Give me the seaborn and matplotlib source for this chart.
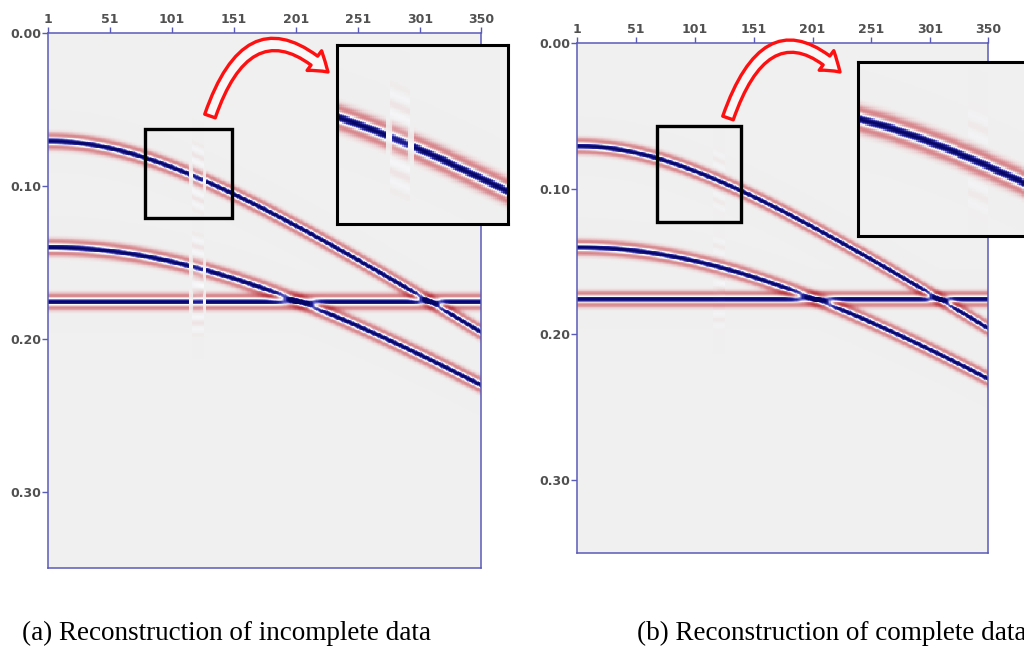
import numpy as np
import pandas as pd
import matplotlib
matplotlib.use("Agg")
import matplotlib.pyplot as plt
import seaborn as sns
from matplotlib.colors import LinearSegmentedColormap
from matplotlib.patches import Rectangle, FancyArrowPatch
from matplotlib.path import Path

# ---------------- data ----------------
n_traces = 350
dt = 0.0005
t_max = 0.35
event_t0 = [0.0705, 0.140, 0.1755]          # s, apex times of the three events
event_curv = [2.72e-7, 2.73e-7, 0.0]         # s^2 per trace^2 (moveout)
event_amp = [1.0, 1.0, 1.0]
wavelet_freq = 100.0                          # Hz, Ricker
gap_traces_a = [115, 116, 117, 118, 119, 120, 121, 122, 123, 124, 125, 126, 127, 128]
gap_gain_a = [0.12, 0.12, 0.15, 0.75, 0.8, 0.8, 0.8, 0.8, 0.8, 0.8, 0.75, 0.15, 0.12, 0.12]
artifact_traces = [117, 118, 119, 120, 121, 122, 123, 124, 125, 126]
artifact_shift = [-0.018, -0.010, 0.010, 0.018]
artifact_amp_a = [0.06, 0.08, 0.08, 0.06]
artifact_amp_b = [0.035, 0.05, 0.05, 0.035]
x_tick_traces = [1, 51, 101, 151, 201, 251, 301, 350]
y_tick_times = [0.00, 0.10, 0.20, 0.30]
captions = ["(a) Reconstruction of incomplete data", "(b) Reconstruction of complete data"]

# ---------------- build sections ----------------
traces = np.arange(1, n_traces + 1)
times = np.arange(0, t_max, dt)


def ricker(tau, f):
    u = (np.pi * f * tau) ** 2
    return (1 - 2 * u) * np.exp(-u)


def section(gain_traces, gains, art_amp):
    d = np.zeros((len(times), len(traces)))
    for t0, c, a in zip(event_t0, event_curv, event_amp):
        tt = np.sqrt(t0 ** 2 + c * (traces - 1) ** 2)
        w = a * ricker(times[:, None] - tt[None, :], wavelet_freq)
        g = np.ones(len(traces))
        for tr, gg in zip(gain_traces, gains):
            g[tr - 1] = gg
        d += w * g[None, :]
        for sh, aa in zip(artifact_shift, art_amp):
            for tr in artifact_traces:
                d[:, tr - 1] += aa * a * ricker(times - tt[tr - 1] - sh, wavelet_freq)
    return pd.DataFrame(d, index=np.round(times, 4), columns=traces)


sec_a = section(gap_traces_a, gap_gain_a, artifact_amp_a)
sec_b = section([], [], artifact_amp_b)

nodes = [(0.0, (180, 40, 50)), (0.275, (215, 135, 140)), (0.425, (235, 210, 212)),
         (0.5, (240, 240, 240)), (0.52, (242, 242, 244)), (0.58, (252, 252, 255)),
         (0.685, (150, 150, 220)), (0.83, (40, 40, 160)), (1.0, (5, 5, 100))]
cmap = LinearSegmentedColormap.from_list(
    "seis", [(p, tuple(v / 255 for v in c)) for p, c in nodes])

# ---------------- figure ----------------
sns.set_theme(style="white")
plt.rcParams["font.family"] = ["DejaVu Sans"]
fig = plt.figure(figsize=(10.24, 6.51), dpi=100)
W, H = 1024, 651


def fig_rect(x0, y0, x1, y1):
    return [x0 / W, 1 - y1 / H, (x1 - x0) / W, (y1 - y0) / H]


spine_col = "#5a5ab8"


def xpos(tr):
    return (tr - 1) * n_traces / (n_traces - 1)


def main_panel(rect, data, box):
    ax = fig.add_axes(rect)
    sns.heatmap(data, ax=ax, cmap=cmap, vmin=-1, vmax=1, cbar=False,
                xticklabels=False, yticklabels=False, rasterized=True)
    for s in ax.spines.values():
        s.set_visible(True)
        s.set_color(spine_col)
        s.set_linewidth(1.1)
    ax.xaxis.tick_top()
    ax.set_xticks([xpos(t) for t in x_tick_traces])
    ax.set_xticklabels([str(t) for t in x_tick_traces])
    ax.set_yticks([t / dt for t in y_tick_times])
    ax.set_yticklabels([f"{t:.2f}" for t in y_tick_times])
    ax.tick_params(axis="both", which="both", direction="out", length=4, width=1,
                   color=spine_col, labelcolor="#505050", labelsize=9, pad=1,
                   top=True, left=True, bottom=False, right=False,
                   labeltop=True, labelbottom=False)
    for lab in ax.get_xticklabels() + ax.get_yticklabels():
        lab.set_fontweight("bold")
    ax.set_xlabel("")
    ax.set_ylabel("")
    ax.set_xlim(0, n_traces)
    ax.set_ylim(len(times), 0)
    (tr0, tr1), (ta, tb) = box
    ax.add_patch(Rectangle((xpos(tr0), ta / dt), xpos(tr1) - xpos(tr0), (tb - ta) / dt,
                           fill=False, ec="black", lw=2.4, zorder=5))
    return ax


def inset_panel(rect, data, xr, tr):
    ax = fig.add_axes(rect, zorder=5)
    sns.heatmap(data, ax=ax, cmap=cmap, vmin=-1, vmax=1, cbar=False,
                xticklabels=False, yticklabels=False, rasterized=True)
    ax.set_xlim(xpos(xr[0]), xpos(xr[1]))
    ax.set_ylim(tr[1] / dt, tr[0] / dt)
    ax.set_xticks([])
    ax.set_yticks([])
    ax.set_xlabel("")
    ax.set_ylabel("")
    for s in ax.spines.values():
        s.set_visible(True)
        s.set_color("black")
        s.set_linewidth(2.2)
    return ax


ax_a = main_panel(fig_rect(48, 33, 481, 568), sec_a, ((79, 149), (0.0625, 0.121)))
ax_b = main_panel(fig_rect(577, 43, 988, 553), sec_b, ((69, 140), (0.057, 0.123)))

inset_panel(fig_rect(337, 45, 508, 224), sec_a, (90, 176), (0.055, 0.129))
inset_panel(fig_rect(858, 62, 1033, 236), sec_b, (60, 150), (0.054, 0.125))


def arrow(p0, c, p2):
    pts = [(p0[0] / W, 1 - p0[1] / H), (c[0] / W, 1 - c[1] / H), (p2[0] / W, 1 - p2[1] / H)]
    path = Path(pts, [Path.MOVETO, Path.CURVE3, Path.CURVE3])
    arr = FancyArrowPatch(path=path, transform=fig.transFigure,
                          arrowstyle="simple,head_width=1.1,head_length=0.8,tail_width=0.5",
                          mutation_scale=16, fc="#f8f8f8", ec="#ff1010", lw=2.4, zorder=20)
    fig.add_artist(arr)


arrow((210, 116), (250, 0), (328, 72))
arrow((728, 118), (768, 3), (840, 72))

fig.text(22 / W, 1 - 633 / H, captions[0], family="Liberation Serif", fontsize=19.5,
         va="center", ha="left", color="black")
fig.text(637 / W, 1 - 633 / H, captions[1], family="Liberation Serif", fontsize=19.5,
         va="center", ha="left", color="black")

fig.savefig("out.png", dpi=100, facecolor="white")
